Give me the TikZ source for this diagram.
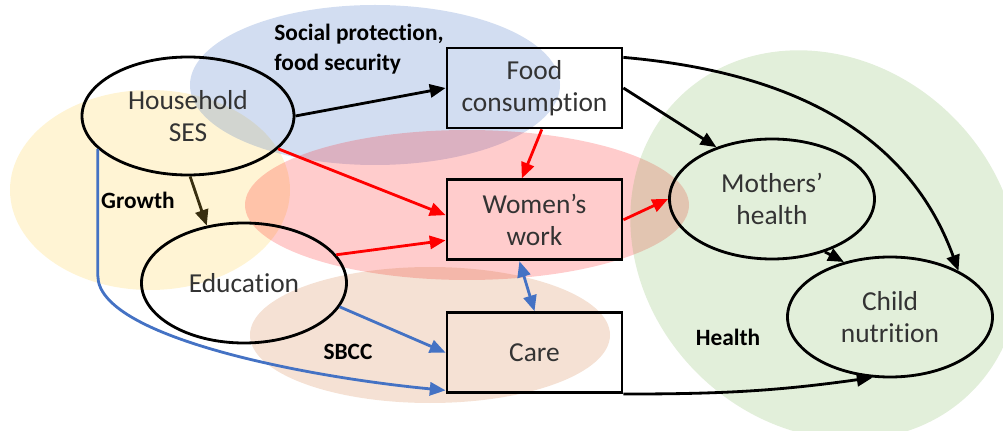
\documentclass[tikz,border=0pt]{standalone}
\usepackage{fontspec}
\setmainfont{Carlito}[Ligatures=NoCommon]
\usetikzlibrary{arrows.meta, positioning, shapes.geometric}

\definecolor{growthc}{RGB}{255,217,102}
\definecolor{socialc}{RGB}{68,114,196}
\definecolor{workc}{RGB}{255,0,0}
\definecolor{sbccc}{RGB}{197,90,17}
\definecolor{healthc}{RGB}{112,173,71}
\definecolor{linkblue}{RGB}{68,114,196}
\definecolor{darkolive}{RGB}{56,46,16}

\begin{document}
\begin{tikzpicture}[->, >={Triangle[length=9pt, width=7.5pt]}, line width=1.6pt,
    oval node/.style={ellipse, draw, inner sep=0pt, minimum width=4.1cm, minimum height=2.4cm,
        align=center, text=black!80, font=\fontsize{15.6}{18}\selectfont},
    box node/.style={rectangle, draw, inner sep=0pt, minimum width=3.5cm, minimum height=1.6cm,
        align=center, text=black!80, font=\fontsize{15.6}{18}\selectfont},
    tag/.style={inner sep=0pt, align=left, font=\bfseries\fontsize{13.3}{17}\selectfont},
    zone/.style={fill opacity=0.28}]

    \useasboundingbox (0,0) rectangle (20.06,8.6);

    % Shaded domains
    \fill[zone, fill=growthc] (3.0,4.8) ellipse [x radius=2.8cm, y radius=2cm];
    \fill[zone, fill=socialc, fill opacity=0.24] (7.5,6.9) ellipse [x radius=3.7cm, y radius=1.6cm];
    \fill[zone, fill=workc, fill opacity=0.2] (9.34,4.5) ellipse [x radius=4.44cm, y radius=1.5cm];
    \fill[zone, fill=sbccc, fill opacity=0.18] (8.6,1.9) ellipse [x radius=3.6cm, y radius=1.36cm];
    \fill[zone, fill=healthc, fill opacity=0.2, rotate around={-45:(16.5,3.7)}]
        (16.5,3.7) ellipse [x radius=4.15cm, y radius=3.62cm];

    % Nodes
    \node[oval node, minimum width=4.24cm, minimum height=2.36cm] (hses) at (3.76,6.28) {Household\\SES};
    \node[oval node] (edu) at (4.88,2.94) {Education};
    \node[box node] (food) at (10.69,6.84) {Food\\consumption};
    \node[box node] (work) [below=0.98cm of food] {Women’s\\work};
    \node[box node] (care) [below=1.0cm of work] {Care};
    \node[oval node] (mh) at (15.44,4.62) {Mothers’\\health};
    \node[oval node] (cn) at (17.8,2.26) {Child\\nutrition};

    % Domain labels
    \node[tag, anchor=west] (social) at (5.46,7.62) {Social protection,\\food security};
    \node[tag] (growth) at (2.76,4.6) {Growth};
    \node[tag] (sbcc) at (6.96,1.56) {SBCC};
    \node[tag] (health) at (14.56,1.86) {Health};

    % Black links
    \path[black]
        (hses.east) edge (food.west)
        (food.east) edge (mh.137)
        (food.19) edge[out=-5, in=110] (cn.34)
        (mh.-45) edge (cn.130)
        (care.south east) edge[out=0, in=188] (cn.254);
    \path[darkolive] (hses.-88) edge (edu.123);

    % Red links through women's work
    \path[workc]
        (hses.-20) edge (work.177)
        (edu.17) edge (work.193)
        (food.-80) edge (work.107)
        (work.east) edge (mh.west);

    % Blue links into care
    \path[linkblue]
        (edu.-14) edge (care.west)
        (work.250) edge[<->] (care.north);
    \draw[linkblue] (hses.200) -- ++(0,-2.54) .. controls +(0,-1.2) and +(-2.92,0.28) .. (care.203);

\end{tikzpicture}
\end{document}
